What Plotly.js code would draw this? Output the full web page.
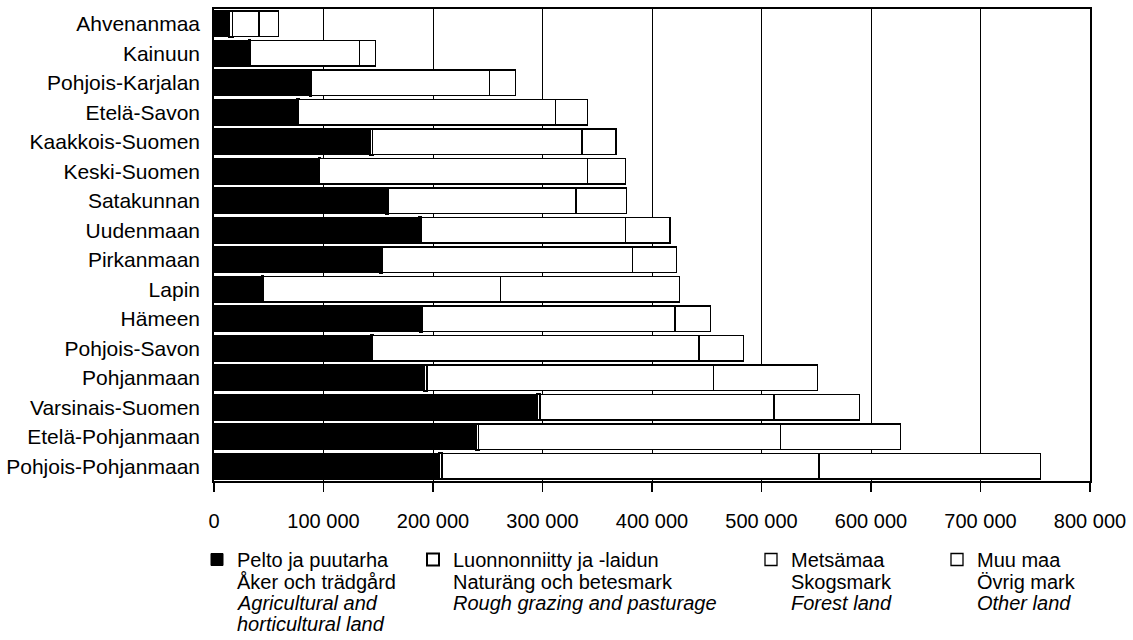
<!DOCTYPE html>
<html>
<head>
<meta charset="utf-8">
<script src="https://cdn.plot.ly/plotly-3.0.1.min.js"></script>
<style>
  html, body { margin: 0; padding: 0; background: #fff; }
  #chart { width: 1133px; height: 640px; }
</style>
</head>
<body>
<div id="chart"></div>
<script>
// Regions (top to bottom)
const regions = ['Ahvenanmaa','Kainuun','Pohjois-Karjalan','Etelä-Savon','Kaakkois-Suomen','Keski-Suomen','Satakunnan','Uudenmaan','Pirkanmaan','Lapin','Hämeen','Pohjois-Savon','Pohjanmaan','Varsinais-Suomen','Etelä-Pohjanmaan','Pohjois-Pohjanmaan'];

// Hectares by land-use class
const pelto   = [14100, 31800, 87400, 75900, 142800, 95600, 157400, 186900, 151900, 44000, 188400, 143400, 192000, 294800, 239200, 205100];
const luonn   = [3000, 1000, 1500, 1500, 2000, 1000, 1500, 2500, 1500, 1000, 2000, 1500, 2500, 3000, 2500, 3000];
const metsa   = [24000, 100200, 162500, 234200, 191200, 244400, 171800, 186700, 229100, 216400, 230700, 298100, 261500, 213600, 275800, 344400];
const muu     = [18000, 14400, 24000, 29800, 31000, 34700, 45700, 40400, 40100, 163600, 32500, 40400, 94900, 78000, 109200, 202000];

// Legend texts: first line (legend entry) and following lines
const seriesNames = ['Pelto ja puutarha', 'Luonnonniitty ja -laidun', 'Metsämaa', 'Muu maa'];
const seriesMoreLines = [
  ['Åker och trädgård', '<i>Agricultural and</i>', '<i>horticultural land</i>'],
  ['Naturäng och betesmark', '<i>Rough grazing and pasturage</i>'],
  ['Skogsmark', '<i>Forest land</i>'],
  ['Övrig mark', '<i>Other land</i>']
];

const tickVals = [0, 100000, 200000, 300000, 400000, 500000, 600000, 700000, 800000];
const tickText = ['0', '100 000', '200 000', '300 000', '400 000', '500 000', '600 000', '700 000', '800 000'];

const FONT = 'Liberation Sans, Arial, Helvetica, sans-serif';
const W = 1133, H = 640;
const M = { l: 214, r: 43, t: 9, b: 159 };
const plotW = W - M.l - M.r, plotH = H - M.t - M.b;
const pxToPaperX = px => (px - M.l) / plotW;
const pxToPaperY = py => (H - M.b - py) / plotH;

const fills = ['#000000', '#ffffff', '#ffffff', '#ffffff'];
const lineW = [1, 2, 1.3, 1.3];
const legendIds = ['legend', 'legend2', 'legend3', 'legend4'];
const legendLeftPx = [197, 413, 751, 937];
const values = [pelto, luonn, metsa, muu];
const LEG_FONT = 20;
const firstLinePx = 561, lineStepPx = 21;

const traces = values.map((v, i) => ({
  type: 'bar',
  orientation: 'h',
  y: regions,
  x: v,
  name: seriesNames[i],
  legend: legendIds[i],
  marker: { color: fills[i], line: { color: '#000', width: lineW[i] } },
  hoverinfo: 'x+y'
}));

const layout = {
  width: W, height: H,
  margin: Object.assign({ autoexpand: false }, M),
  paper_bgcolor: '#fff', plot_bgcolor: '#fff',
  barmode: 'stack',
  bargap: 0.13,
  showlegend: true,
  font: { family: FONT, size: 20, color: '#000' },
  xaxis: {
    range: [0, 800000],
    tickvals: tickVals, ticktext: tickText,
    showgrid: true, gridcolor: '#000', gridwidth: 1,
    zeroline: false,
    showline: true, mirror: true, linecolor: '#000', linewidth: 1.8,
    ticks: 'outside', ticklen: 9, tickcolor: '#000', tickwidth: 1.2,
    ticklabelstandoff: 12,
    tickfont: { family: FONT, size: 20, color: '#000' },
    automargin: false,
    fixedrange: true
  },
  yaxis: {
    type: 'category',
    categoryorder: 'array', categoryarray: regions,
    autorange: 'reversed',
    showgrid: false, zeroline: false,
    showline: true, mirror: true, linecolor: '#000', linewidth: 1.8,
    ticks: '', ticklabelstandoff: 8,
    tickfont: { family: FONT, size: 21, color: '#000' },
    automargin: false,
    fixedrange: true
  },
  annotations: []
};

legendIds.forEach((id, i) => {
  layout[id] = {
    x: pxToPaperX(legendLeftPx[i]), xanchor: 'left',
    y: pxToPaperY(firstLinePx - 21), yanchor: 'top',
    orientation: 'v', valign: 'middle',
    bgcolor: 'rgba(0,0,0,0)', borderwidth: 0,
    itemwidth: 30,
    font: { family: FONT, size: LEG_FONT, color: '#000' }
  };
  seriesMoreLines[i].forEach((txt, k) => {
    layout.annotations.push({
      xref: 'paper', yref: 'paper',
      x: pxToPaperX(legendLeftPx[i] + 40 - 2), xanchor: 'left',
      y: pxToPaperY(firstLinePx + (k + 1) * lineStepPx), yanchor: 'middle',
      text: txt, showarrow: false,
      font: { family: FONT, size: LEG_FONT, color: '#000' }
    });
  });
});

Plotly.newPlot('chart', traces, layout, { displayModeBar: false, staticPlot: true });
</script>
</body>
</html>
